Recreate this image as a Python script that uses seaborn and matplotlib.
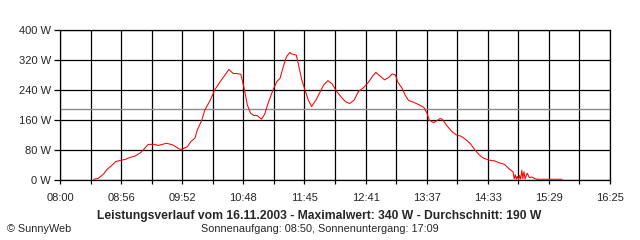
import numpy as np
import pandas as pd
import matplotlib
matplotlib.use("Agg")
import matplotlib.pyplot as plt
import seaborn as sns

# minutes after 08:00
minutes = [31, 35, 40, 43, 48, 51, 55, 60, 64, 69, 74, 77, 81, 87, 90, 98, 104, 106,
           110, 112, 117, 120, 124, 126, 130, 133, 138, 142, 147, 152, 155, 159, 162,
           166, 168, 170, 172, 175, 178, 181, 185, 188, 191, 195, 199, 202, 205, 208,
           211, 213, 217, 219, 222, 225, 228, 231, 235, 239, 242, 246, 250, 254, 258,
           262, 266, 270, 274, 279, 283, 287, 290, 294, 298, 302, 305, 308, 310, 314,
           317, 320, 325, 330, 334, 337, 339, 343, 346, 349, 351, 356, 360, 364, 368,
           373, 377, 381, 385, 389, 394, 399, 403, 408, 413, 416, 417, 418, 419, 420,
           421, 422, 423, 424, 425, 426, 427, 429, 431, 433, 436, 438, 457, 461]
power_w = [2, 4, 16, 28, 40, 49, 52, 55, 60, 64, 73, 82, 95, 95, 92, 98, 93, 89,
           82, 82, 89, 102, 112, 133, 158, 187, 213, 240, 262, 282, 295, 284, 284,
           282, 258, 231, 200, 178, 172, 172, 162, 176, 204, 236, 262, 271, 302, 329,
           340, 336, 333, 307, 267, 240, 213, 196, 213, 236, 253, 265, 256, 236, 222,
           209, 204, 213, 236, 247, 260, 277, 287, 277, 267, 274, 283, 280, 262, 245,
           226, 212, 207, 200, 194, 178, 160, 153, 158, 164, 162, 142, 129, 120, 117,
           107, 96, 80, 67, 58, 53, 51, 46, 42, 28, 22, 3, 14, 2, 10,
           1, 12, 3, 26, 4, 22, 3, 18, 6, 8, 4, 2, 2, 2]

average_w = 190
x_tick_labels = ["08:00", "08:56", "09:52", "10:48", "11:45", "12:41",
                 "13:37", "14:33", "15:29", "16:25"]
y_ticks = [0, 80, 160, 240, 320, 400]
y_tick_labels = ["0 W", "80 W", "160 W", "240 W", "320 W", "400 W"]
title = "Leistungsverlauf vom 16.11.2003 - Maximalwert: 340 W - Durchschnitt: 190 W"
subtitle = "Sonnenaufgang: 08:50, Sonnenuntergang: 17:09"
credit = "\u00a9 SunnyWeb"

sns.set_style("white")
plt.rcParams["font.family"] = ["Liberation Sans", "DejaVu Sans"]

df = pd.DataFrame({"t": minutes, "p": power_w})

fig = plt.figure(figsize=(6.4, 2.4), dpi=100)
ax = fig.add_axes([60 / 640, 60 / 240, 550 / 640, 150 / 240])

t_end = 505
ax.set_xlim(0, t_end)
ax.set_ylim(0, 400)

grid_x = np.linspace(0, t_end, 19)
ax.set_xticks(grid_x)
ax.set_xticklabels([x_tick_labels[i // 2] if i % 2 == 0 else "" for i in range(19)])
ax.set_yticks(y_ticks)
ax.set_yticklabels(y_tick_labels)

ax.grid(True, color="black", lw=0.9, zorder=1)
ax.set_axisbelow(True)
ax.tick_params(axis="x", length=3.2, width=0.9, color="black", pad=6,
               labelsize=8, direction="out", bottom=True)
ax.tick_params(axis="y", length=4, width=0.9, color="black", pad=2.5,
               labelsize=8, direction="out", left=True)
for s in ax.spines.values():
    s.set_color("black")
    s.set_linewidth(0.9)

ax.axhline(average_w, color="#8c8c8c", lw=1.0, zorder=2)
sns.lineplot(data=df, x="t", y="p", color="#ff0000", lw=0.75, ax=ax, zorder=3)
ax.set_xlabel("")
ax.set_ylabel("")

fig.text(319 / 640, 1 - 216.5 / 240, title, ha="center", va="center",
         fontsize=8.7, fontweight="bold")
fig.text(320 / 640, 1 - 229 / 240, subtitle, ha="center", va="center", fontsize=7.8)
fig.text(7 / 640, 1 - 229 / 240, credit, ha="left", va="center", fontsize=7.8)

fig.savefig("out.png", dpi=100, facecolor="white")
